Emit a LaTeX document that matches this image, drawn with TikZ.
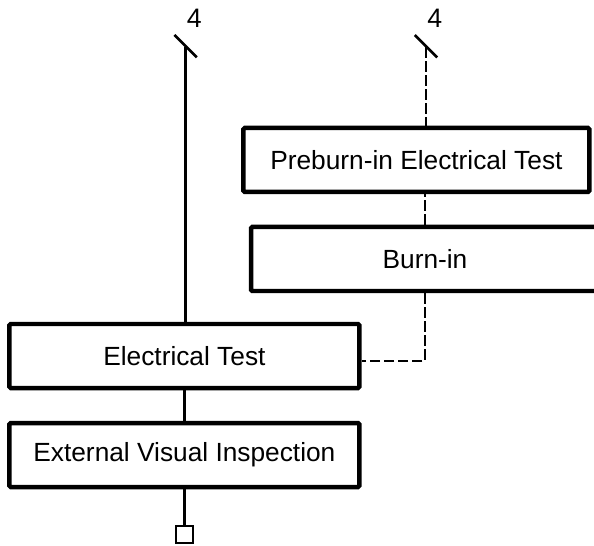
\documentclass[tikz,border=0pt]{standalone}
\usepackage{fontspec}
\setmainfont{Liberation Sans}
\usepackage{tikz}
\usetikzlibrary{positioning,calc}
\begin{document}
\begin{tikzpicture}[
  b/.style={rectangle,draw=black,line width=3.2pt,rounded corners=1pt,fill=white,
    minimum height=1.6cm,inner sep=0pt,font=\fontsize{18.7}{22}\selectfont},
  ln/.style={line width=1.7pt},
  dl/.style={line width=1.7pt,dash pattern=on 7.5pt off 2.5pt}]
\useasboundingbox (0,0) rectangle (14.85,13.625);
\clip (0,0) rectangle (14.85,13.625);
% Boxes at fixed positions.
\node[b,minimum width=8.65cm] (nPB) at (10.41,9.625) {Preburn-in Electrical Test};
\node[b,minimum width=8.7cm] (nBI) at (10.625,7.15) {Burn-in};
\node[b,minimum width=8.75cm] (nET) at (4.61,4.725) {Electrical Test};
\node[b,minimum width=8.75cm] (nEV) at (4.61,2.25) {External Visual Inspection};
\node[draw=black,line width=1.6pt,minimum size=0.42cm,inner sep=0pt] (nQ) at (4.61,0.26) {};
\coordinate (tL) at (4.64,12.45);
\coordinate (tR) at (10.65,12.45);
\draw[ln] (tL) -- (tL |- nET.north);
\draw[ln] (nET) -- (nEV);
\draw[ln] (nEV) -- (nQ);
\draw[dl] (tR) -- (tR |- nPB.north);
\draw[dl] (nBI.north) -- (nBI.north |- nPB.south);
\draw[dl] (nBI.south) |- ($(nET.east)+(0,-0.12)$);
% Slashes with the count.
\foreach \t/\nm in {tL/nL,tR/nR}{
  \draw[line width=1.9pt] ($(\t)+(-0.28,0.3)$) -- ($(\t)+(0.28,-0.26)$);
  \node[font=\fontsize{19}{22}\selectfont] (\nm) at ($(\t)+(0.22,0.72)$) {4};}
\end{tikzpicture}
\end{document}
